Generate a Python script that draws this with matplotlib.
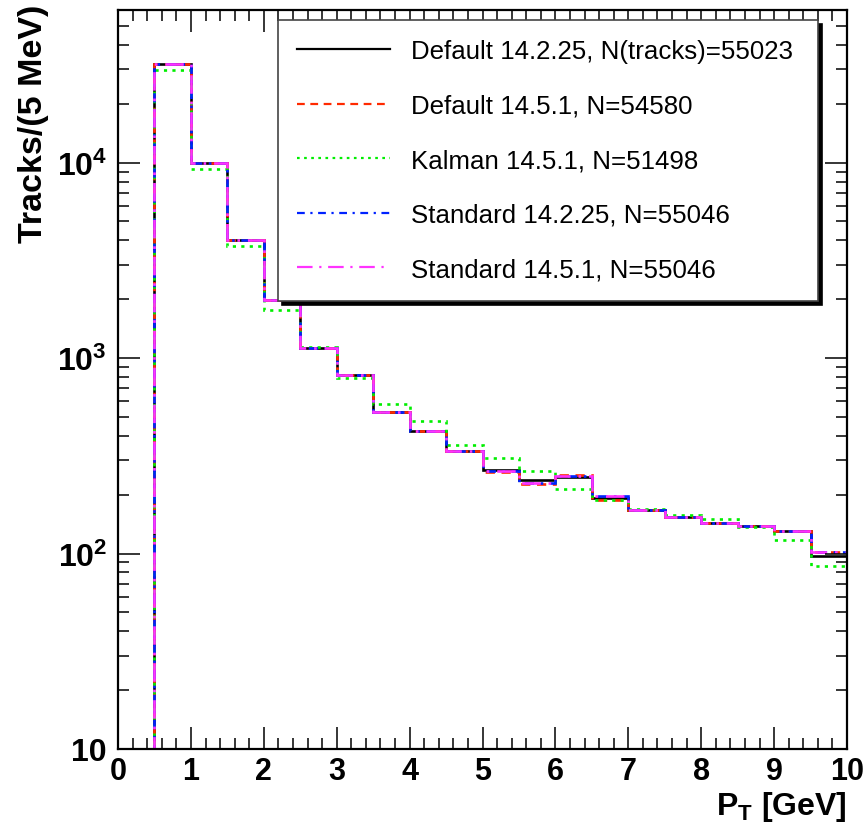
import matplotlib
matplotlib.use("Agg")
import matplotlib.pyplot as plt
import numpy as np
from matplotlib.ticker import FixedLocator, MultipleLocator, FuncFormatter

"""
Track pT spectra for the different tracking setups (ROOT style log histogram)
"""

plt.rcParams['font.family'] = ['Liberation Sans', 'DejaVu Sans']
plt.rcParams['mathtext.fontset'] = 'custom'
plt.rcParams['mathtext.rm'] = 'Liberation Sans:bold'
plt.rcParams['mathtext.bf'] = 'Liberation Sans:bold'
plt.rcParams['mathtext.it'] = 'Liberation Sans:bold'

# bin edges, 0.5 GeV wide
edges = np.arange(0, 10.01, 0.5)

default_14225 = [0, 32100, 9900, 4000, 1973, 1125, 815, 529, 421, 334,
                 267, 239, 246, 193, 166, 154.5, 143, 138, 130.6, 97.5]
default_1451 = [0, 32100, 9900, 4000, 1973, 1125, 815, 532, 421, 334,
                261, 227, 251, 188, 166, 154.5, 143, 138, 130.6, 101.5]
kalman_1451 = [0, 29700, 9318, 3745, 1754, 1138, 793, 582, 475, 357,
               309, 263, 214, 188, 169, 158, 150, 136, 117.4, 86.4]
standard_14225 = [0, 32100, 9900, 4000, 1973, 1125, 815, 529, 421, 334,
                  264, 230, 249, 198, 166, 154.5, 143, 138, 130.6, 101.5]
standard_1451 = [0, 32100, 9900, 4000, 1973, 1125, 815, 529, 421, 334,
                 264, 230, 249, 198, 166, 154.5, 143, 138, 130.6, 101.5]

labels = ["Default 14.2.25, N(tracks)=55023",
          "Default 14.5.1, N=54580",
          "Kalman 14.5.1, N=51498",
          "Standard 14.2.25, N=55046",
          "Standard 14.5.1, N=55046"]

fig = plt.figure(figsize=(8.66, 8.29), dpi=100)
ax = fig.add_axes([0.1363, 0.0953, 0.8418, 0.8914])

series = [default_14225, default_1451, kalman_1451, standard_14225, standard_1451]
colors = ['black', '#ff2a00', '#00ee00', '#0022ff', '#ff33ff']
dashes = [None, (3.5, 2.5), (1.2, 2.0), (3.5, 2.5, 1.0, 2.5), (7.0, 3.0, 1.0, 3.0)]

handles = []
for vals, c, d, lab in zip(series, colors, dashes, labels):
    st = ax.stairs(vals, edges, color=c, linewidth=1.9, baseline=None, label=lab)
    if d is not None:
        st.set_linestyle((0, d))
    handles.append(plt.Line2D([], [], color=c, linewidth=1.6,
                              linestyle='-' if d is None else (0, d)))

ax.set_yscale('log')
ax.set_xlim(0, 10)
ax.set_ylim(10, 6.03e4)

ax.xaxis.set_major_locator(MultipleLocator(1))
ax.xaxis.set_minor_locator(MultipleLocator(0.2))
ax.yaxis.set_major_locator(FixedLocator([10, 100, 1000, 10000]))
minor_y = [m * 10 ** e for e in range(1, 5) for m in range(2, 10)]
ax.yaxis.set_minor_locator(FixedLocator(minor_y))


def ylab(v, pos):
    e = int(round(np.log10(v)))
    if e == 1:
        return '10'
    return r'$10^{%d}$' % e


ax.yaxis.set_major_formatter(FuncFormatter(ylab))
ax.yaxis.set_minor_formatter(FuncFormatter(lambda v, p: ''))

ax.tick_params(which='both', direction='in', top=True, right=True, width=1.1)
ax.tick_params(which='major', length=16)
ax.tick_params(which='minor', length=8)
ax.tick_params(axis='x', labelsize=22, pad=5)
ax.tick_params(axis='y', labelsize=23, pad=8)
for lbl in ax.get_xticklabels() + ax.get_yticklabels():
    lbl.set_fontweight('bold')
for s in ax.spines.values():
    s.set_linewidth(1.6)

ax.set_xlabel(r'P$_{\mathregular{T}}$ [GeV]', fontsize=23, fontweight='bold', loc='right')
ax.xaxis.set_label_coords(1.0, -0.054)
ax.xaxis.label.set_va('top')
ax.set_ylabel('Tracks/(5 MeV)', fontsize=24.5, fontweight='bold', loc='top')
ax.yaxis.set_label_coords(-0.095, 1.008)

leg = ax.legend(handles, labels, loc='upper left',
                bbox_to_anchor=(0.2195, 0.6116, 0.7407, 0.375), mode='expand',
                borderaxespad=0, fontsize=18.6, handlelength=3.6, handletextpad=0.8,
                labelspacing=1.18, borderpad=0.75, fancybox=False,
                shadow={'color': 'black', 'alpha': 1.0, 'ox': 3, 'oy': -3})
leg.get_frame().set_edgecolor('#444444')
leg.get_frame().set_linewidth(1.2)

fig.savefig('out.png', dpi=100)
